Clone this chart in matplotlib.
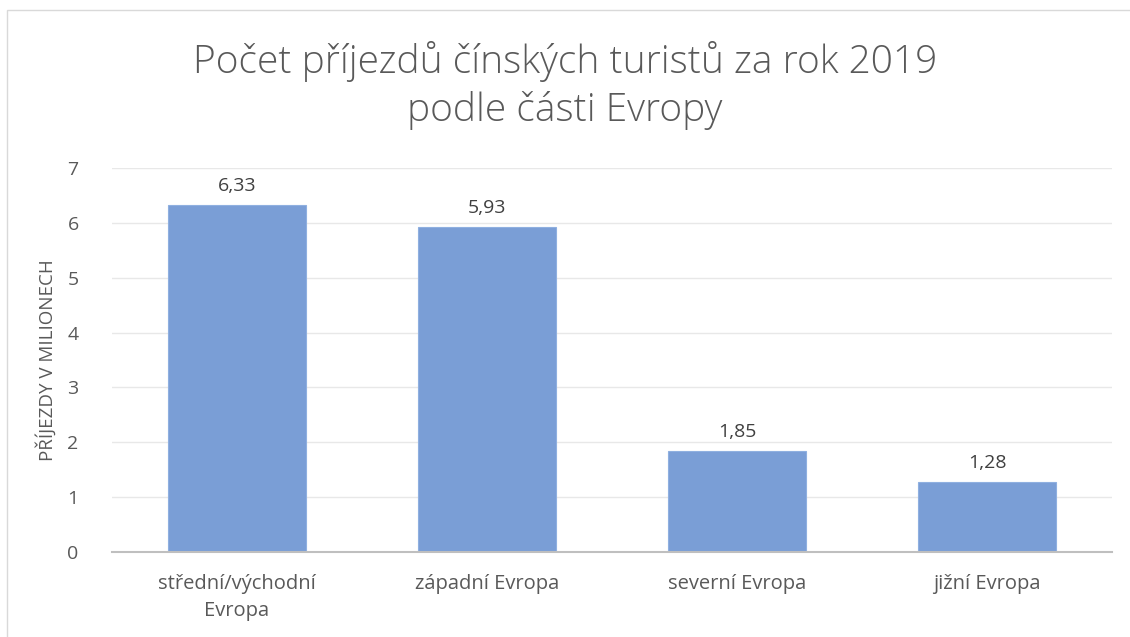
import matplotlib.pyplot as plt
import matplotlib.patches as patches

# data
kategorie = ["střední/východní\nEvropa", "západní Evropa", "severní Evropa", "jižní Evropa"]
prijezdy = [6.33, 5.93, 1.85, 1.28]
popisky = ["6,33", "5,93", "1,85", "1,28"]
y_ticks = [0, 1, 2, 3, 4, 5, 6, 7]

plt.rcParams['font.family'] = ['Open Sans', 'DejaVu Sans']
text_barva = "#595959"

fig = plt.figure(figsize=(11.3, 6.37), dpi=100)
ax = fig.add_axes([112/1130, 1 - 552/637, 1000/1130, 384/637])

x = range(len(kategorie))
sloupce = ax.bar(x, prijezdy, width=0.552, color="#7A9ED6", edgecolor="#8FB0E0", linewidth=0.8, zorder=3)

for i, s in enumerate(sloupce):
    ax.text(s.get_x() + s.get_width()/2, prijezdy[i] + 0.17, popisky[i],
            ha="center", va="bottom", fontsize=14, color="#404040")

ax.set_xlim(-0.5, 3.5)
ax.set_ylim(0, 7)
ax.set_yticks(y_ticks)
ax.set_xticks(list(x))
ax.set_xticklabels(kategorie, fontsize=14.5, color=text_barva, linespacing=1.45)
ax.tick_params(axis="y", labelsize=14, labelcolor=text_barva, length=0, pad=24)
ax.tick_params(axis="x", length=0, pad=16)
ax.grid(axis="y", color="#E8E8E8", linewidth=1, zorder=0)
for s in ["top", "right", "left"]:
    ax.spines[s].set_visible(False)
ax.spines["bottom"].set_color("#BFBFBF")
ax.spines["bottom"].set_linewidth(1.5)
ax.spines["bottom"].set_zorder(4)

ax.set_ylabel("PŘÍJEZDY V MILIONECH", fontsize=13.5, color=text_barva, labelpad=8)

fig.text(0.5, 1 - 62/637, "Počet příjezdů čínských turistů za rok 2019", ha="center", va="center",
         fontsize=28, color=text_barva, fontweight="light")
fig.text(0.5, 1 - 110/637, "podle části Evropy", ha="center", va="center",
         fontsize=28, color=text_barva, fontweight="light")

# okraj grafu
okraj = patches.Rectangle((7/1130, -0.1), 1.2, 1 - 10/637 + 0.1, transform=fig.transFigure,
                          fill=False, edgecolor="#D9D9D9", linewidth=1)
fig.patches.append(okraj)

fig.savefig("out.png", dpi=100)
